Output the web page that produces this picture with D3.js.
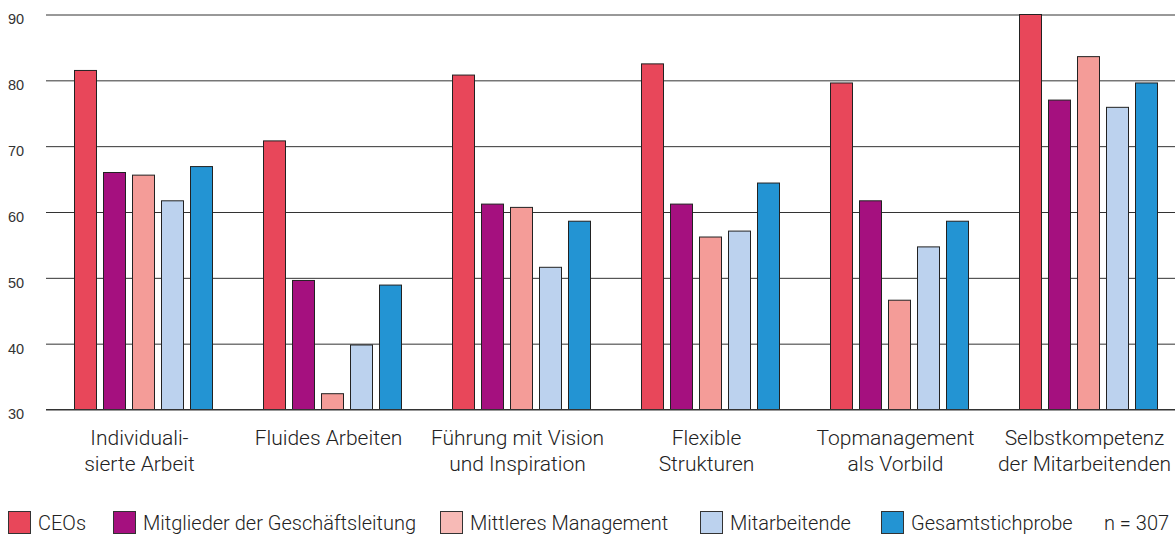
<!DOCTYPE html>
<html>
<head>
<meta charset="utf-8">
<script src="https://cdn.jsdelivr.net/npm/d3@7"></script>
<style>
  html, body { margin: 0; padding: 0; background: #fff; }
  svg { display: block; font-family: Roboto, "Noto Sans", sans-serif; }
</style>
</head>
<body>
<svg id="chart" width="1175" height="534"></svg>
<script>
const categories = [
  ["Individuali-", "sierte Arbeit"],
  ["Fluides Arbeiten"],
  ["Führung mit Vision", "und Inspiration"],
  ["Flexible", "Strukturen"],
  ["Topmanagement", "als Vorbild"],
  ["Selbstkompetenz", "der Mitarbeitenden"]
];
const seriesNames = ["CEOs", "Mitglieder der Geschäftsleitung", "Mittleres Management", "Mitarbeitende", "Gesamtstichprobe"];
const seriesColors = ["#e8475a", "#a5107f", "#f49c98", "#bcd2ee", "#2394d3"];
const legendColors = ["#e8475a", "#a5107f", "#f7bab6", "#bcd2ee", "#2394d3"];
const ceos = [81.5, 70.8, 80.8, 82.5, 79.6, 90.0];
const geschaeftsleitung = [66.0, 49.6, 61.2, 61.2, 61.7, 77.0];
const mittleresManagement = [65.6, 32.4, 60.7, 56.2, 46.6, 83.6];
const mitarbeitende = [61.7, 39.8, 51.6, 57.1, 54.7, 75.9];
const gesamt = [66.9, 48.9, 58.6, 64.4, 58.6, 79.6];
const yTicks = [30, 40, 50, 60, 70, 80, 90];
const noteText = "n = 307";

const seriesValues = [ceos, geschaeftsleitung, mittleresManagement, mitarbeitende, gesamt];
const catKeys = categories.map(c => c.join(" "));

// layout (not data)
const legendX = [8, 113, 440, 700, 881];
const noteX = 1104;

const svg = d3.select("#chart");

const y = d3.scaleLinear().domain([30, 90]).range([409.5, 14.5]);
const x0 = d3.scaleBand().domain(catKeys).range([49, 1183]).paddingInner(50/189).paddingOuter(25/189);
const x1 = d3.scaleBand().domain(seriesNames).range([0, x0.bandwidth()]).paddingInner(0.207);
const color = d3.scaleOrdinal().domain(seriesNames).range(seriesColors);
const legendColor = d3.scaleOrdinal().domain(seriesNames).range(legendColors);

// gridlines + tick labels via axis
const yAxis = d3.axisLeft(y).tickValues(yTicks).tickSize(-(1175 - 46)).tickFormat(d3.format("d"));
const gAxis = svg.append("g").attr("transform", "translate(46,0)").call(yAxis);
gAxis.select(".domain").remove();
gAxis.selectAll(".tick line").attr("stroke", "#333").attr("stroke-width", 1);
gAxis.selectAll(".tick text")
  .attr("x", -38).attr("dy", "0.32em").attr("y", 4.7)
  .attr("text-anchor", "start")
  .attr("fill", "#333")
  .style("font-size", "14.5px")
  .style("font-weight", 300);

// bars
const groups = svg.append("g").selectAll("g")
  .data(catKeys)
  .join("g")
  .attr("transform", d => `translate(${x0(d)},0)`);

groups.selectAll("rect")
  .data((d, i) => seriesNames.map((s, j) => ({ s, v: seriesValues[j][i] })))
  .join("rect")
  .attr("x", d => x1(d.s) + 0.5)
  .attr("y", d => y(d.v))
  .attr("width", x1.bandwidth() - 1)
  .attr("height", d => y(30) - y(d.v))
  .attr("fill", d => color(d.s))
  .attr("stroke", "#222")
  .attr("stroke-width", 1);

// redraw baseline on top
svg.append("line")
  .attr("x1", 46).attr("x2", 1175)
  .attr("y1", y(30)).attr("y2", y(30))
  .attr("stroke", "#333").attr("stroke-width", 1);

// category labels
const labels = svg.append("g").selectAll("text")
  .data(categories)
  .join("text")
  .attr("x", (d, i) => x0(catKeys[i]) + x0.bandwidth() / 2 - 4)
  .attr("y", 445)
  .attr("text-anchor", "middle")
  .attr("fill", "#222")
  .style("font-size", "21px")
  .style("font-weight", 300);
labels.selectAll("tspan")
  .data(d => d)
  .join("tspan")
  .attr("x", function() { return d3.select(this.parentNode).attr("x"); })
  .attr("dy", (d, i) => i === 0 ? 0 : 26)
  .text(d => d);

// legend
const legend = svg.append("g");
seriesNames.forEach((s, i) => {
  const lx = legendX[i];
  legend.append("rect")
    .attr("x", lx + 0.5).attr("y", 511.5)
    .attr("width", 22).attr("height", 22)
    .attr("fill", legendColor(s)).attr("stroke", "#333").attr("stroke-width", 1);
  legend.append("text")
    .attr("x", lx + 30).attr("y", 529.5)
    .attr("fill", "#222")
    .style("font-size", "20px")
    .style("font-weight", 300)
    .text(s);
});
legend.append("text")
  .attr("x", noteX).attr("y", 529.5)
  .attr("fill", "#222")
  .style("font-size", "20px")
  .style("font-weight", 300)
  .text(noteText);
</script>
</body>
</html>
